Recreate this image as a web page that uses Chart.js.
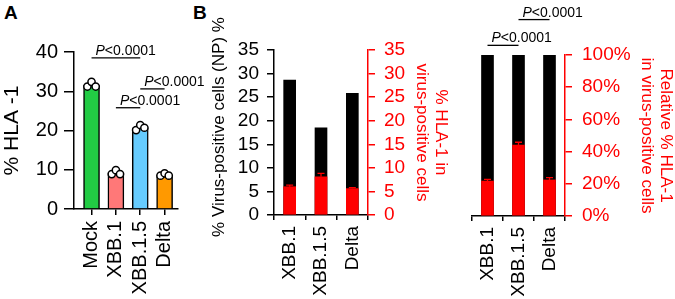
<!DOCTYPE html>
<html>
<head>
<meta charset="utf-8">
<script src="https://cdn.jsdelivr.net/npm/chart.js@4.4.0/dist/chart.umd.min.js"></script>
<style>
  body { margin: 0; width: 675px; height: 299px; background: #fff; position: relative; overflow: hidden; font-family: "Liberation Sans", Arial, sans-serif; }
  canvas { position: absolute; top: 0; }
  .panel { position: absolute; font-weight: bold; font-size: 19px; }
</style>
</head>
<body>
<div class="panel" style="left:4px;top:2px">A</div>
<div class="panel" style="left:193px;top:2px">B</div>
<canvas id="chartA" width="215" height="299" style="left:0"></canvas>
<canvas id="chartB1" width="270" height="299" style="left:185px"></canvas>
<canvas id="chartB2" width="235" height="299" style="left:440px"></canvas>
<script>
// panel A
const groupsA = ["Mock", "XBB.1", "XBB.1.5", "Delta"];
const hlaMean = [31.6, 9.2, 20.7, 8.7];
const hlaReps = [[31.2, 32.4, 31.2], [8.9, 9.9, 8.9], [20.1, 21.4, 20.7], [8.5, 9.1, 8.5]];
const ticksA = [0, 10, 20, 30, 40];

// panel B
const variants = ["XBB.1", "XBB.1.5", "Delta"];
const npPositive = [28.6, 18.5, 25.8];
const hlaInPos = [6.0, 8.1, 5.6];
const hlaInPosErr = [0.35, 0.75, 0.2];
const ticksB1 = [0, 5, 10, 15, 20, 25, 30, 35];
const totalRel = [100, 100, 100];
const relHla = [21.7, 44.1, 22.4];
const relHlaErr = [1.1, 1.7, 1.4];
const ticksB2 = [0, 20, 40, 60, 80, 100];

// significance brackets (category index from/to, height in axis units)
const sigA = [{ from: 0, to: 2, y: 38.5 }, { from: 1, to: 2, y: 25.8 }, { from: 2, to: 3, y: 30.6 }];
const sigB2 = [{ from: 0, to: 1, y: 106 }, { from: 1, to: 2, y: 122 }];

const barColorsA = ["#22cc44", "#ff7878", "#66ccff", "#ff9900"];
const RED = "#ff0000";
const FONT = "Liberation Sans";
Chart.defaults.font.family = FONT;

const setTicks = list => s => { s.ticks = list.map(v => ({ value: v })); };

function sigPlugin(items, yId) {
  return {
    id: "sig",
    afterDraw(chart) {
      const ctx = chart.ctx, x = chart.scales.x, y = chart.scales[yId];
      ctx.save();
      ctx.strokeStyle = "#000";
      ctx.fillStyle = "#000";
      ctx.lineWidth = 1.3;
      items.forEach(s => {
        const x1 = x.getPixelForValue(s.from), x2 = x.getPixelForValue(s.to);
        const yy = y.getPixelForValue(s.y);
        ctx.beginPath();
        ctx.moveTo(x1, yy);
        ctx.lineTo(x2, yy);
        ctx.stroke();
        ctx.textBaseline = "alphabetic";
        ctx.font = "italic 14px " + FONT;
        ctx.fillText("P", x1 + 4, yy - 3);
        const w = ctx.measureText("P").width;
        ctx.font = "14px " + FONT;
        ctx.fillText("<0.0001", x1 + 4 + w, yy - 3);
      });
      ctx.restore();
    }
  };
}

function errPlugin(values, errs, yId) {
  return {
    id: "err",
    afterDatasetsDraw(chart) {
      const ctx = chart.ctx, y = chart.scales[yId];
      ctx.save();
      ctx.strokeStyle = RED;
      ctx.lineWidth = 1.3;
      chart.getDatasetMeta(0).data.forEach((bar, i) => {
        const top = y.getPixelForValue(values[i] + errs[i]);
        ctx.beginPath();
        ctx.moveTo(bar.x, bar.y);
        ctx.lineTo(bar.x, top);
        ctx.moveTo(bar.x - 3.5, top);
        ctx.lineTo(bar.x + 3.5, top);
        ctx.stroke();
      });
      ctx.restore();
    }
  };
}

const axisLine = c => ({ color: c, width: 1.5 });
const tickGrid = (c, len) => ({ drawOnChartArea: false, color: c, lineWidth: 1.5, tickLength: len });

// ---- A ----
new Chart(document.getElementById("chartA"), {
  type: "bar",
  data: {
    datasets: [
      {
        type: "scatter",
        data: hlaReps.flatMap((reps, i) => reps.map((v, k) => ({ x: i + [-0.17, 0, 0.17][k], y: v }))),
        pointRadius: 3.6,
        pointBackgroundColor: "#fff",
        pointBorderColor: "#000",
        pointBorderWidth: 1.5
      },
      {
        data: hlaMean.map((v, i) => ({ x: i, y: v })),
        backgroundColor: barColorsA,
        borderColor: "#000",
        borderWidth: 1.5,
        barThickness: 16
      }
    ]
  },
  options: {
    responsive: false, animation: false, events: [],
    layout: { padding: { top: 52, right: 37, left: 0, bottom: 0 } },
    plugins: { legend: { display: false }, tooltip: { enabled: false } },
    scales: {
      x: {
        type: "linear", min: -0.72, max: 3.55, offset: false,
        afterBuildTicks: setTicks([0, 1, 2, 3]),
        afterFit: s => { s.height = 90; },
        grid: { ...tickGrid("#000", 6), offset: false },
        border: axisLine("#000"),
        ticks: { color: "#000", font: { size: 20 }, minRotation: 90, maxRotation: 90, padding: 6,
                 autoSkip: false, callback: v => groupsA[v] }
      },
      y: {
        min: 0, max: 40,
        afterBuildTicks: setTicks(ticksA),
        afterFit: s => { s.width = 74; },
        grid: tickGrid("#000", 10),
        border: axisLine("#000"),
        ticks: { color: "#000", font: { size: 20 }, padding: 6, autoSkip: false },
        title: { display: true, text: "% HLA -1", color: "#000", font: { size: 21 }, padding: 0 }
      }
    }
  },
  plugins: [sigPlugin(sigA, "y")]
});

// ---- B left ----
const leftTitle = {
  id: "leftTitle",
  afterDraw(chart) {
    const ctx = chart.ctx;
    ctx.save();
    ctx.translate(34.5, 127);
    ctx.rotate(-Math.PI / 2);
    ctx.font = "17px " + FONT;
    ctx.fillStyle = "#000";
    ctx.textAlign = "center";
    ctx.textBaseline = "middle";
    ctx.fillText("% Virus-positive cells (NP) %", 0, 0);
    ctx.restore();
  }
};

new Chart(document.getElementById("chartB1"), {
  type: "bar",
  data: {
    labels: variants,
    datasets: [
      { data: hlaInPos, backgroundColor: RED, yAxisID: "y2", grouped: false, barThickness: 12 },
      { data: npPositive, backgroundColor: "#000", yAxisID: "y", grouped: false, barThickness: 12 }
    ]
  },
  options: {
    responsive: false, animation: false, events: [],
    layout: { padding: { top: 50, right: 0, left: 0, bottom: 0 } },
    plugins: { legend: { display: false }, tooltip: { enabled: false } },
    scales: {
      x: {
        offset: true,
        afterFit: s => { s.height = 84; },
        grid: { ...tickGrid("#000", 5), offset: true },
        border: axisLine("#000"),
        ticks: { color: "#000", font: { size: 19 }, minRotation: 90, maxRotation: 90, padding: 6, autoSkip: false }
      },
      y: {
        position: "left", min: 0, max: 35,
        afterBuildTicks: setTicks(ticksB1),
        afterFit: s => { s.width = 89; },
        grid: tickGrid("#000", 7),
        border: axisLine("#000"),
        ticks: { color: "#000", font: { size: 19 }, padding: 8, autoSkip: false }
      },
      y2: {
        position: "right", min: 0, max: 35,
        afterBuildTicks: setTicks(ticksB1),
        afterFit: s => { s.width = 87; },
        grid: tickGrid(RED, 7),
        border: axisLine(RED),
        ticks: { color: RED, font: { size: 19 }, padding: 9, autoSkip: false },
        title: { display: true, text: ["% HLA-1 in", "virus-positive cells"], color: RED,
                 font: { size: 17, lineHeight: 1.1 }, padding: { top: 5 } }
      }
    }
  },
  plugins: [leftTitle, errPlugin(hlaInPos, hlaInPosErr, "y2")]
});

// ---- B right ----
new Chart(document.getElementById("chartB2"), {
  type: "bar",
  data: {
    labels: variants,
    datasets: [
      { data: relHla, backgroundColor: RED, grouped: false, barThickness: 12 },
      { data: totalRel, backgroundColor: "#000", grouped: false, barThickness: 12 }
    ]
  },
  options: {
    responsive: false, animation: false, events: [],
    layout: { padding: { top: 55, right: 0, left: 32, bottom: 0 } },
    plugins: { legend: { display: false }, tooltip: { enabled: false } },
    scales: {
      x: {
        offset: true,
        afterFit: s => { s.height = 83; },
        grid: { ...tickGrid("#000", 5), offset: true },
        border: axisLine("#000"),
        ticks: { color: "#000", font: { size: 19 }, minRotation: 90, maxRotation: 90, padding: 6, autoSkip: false }
      },
      y: {
        position: "right", min: 0, max: 100,
        afterBuildTicks: setTicks(ticksB2),
        afterFit: s => { s.width = 110; },
        grid: tickGrid(RED, 7),
        border: axisLine(RED),
        ticks: { color: RED, font: { size: 19 }, padding: 10, autoSkip: false, callback: v => v + "%" },
        title: { display: true, text: ["Relative % HLA-1", "in virus-positive cells"], color: RED,
                 font: { size: 17, lineHeight: 1.1 }, padding: { top: 0 } }
      }
    }
  },
  plugins: [sigPlugin(sigB2, "y"), errPlugin(relHla, relHlaErr, "y")]
});
</script>
</body>
</html>
